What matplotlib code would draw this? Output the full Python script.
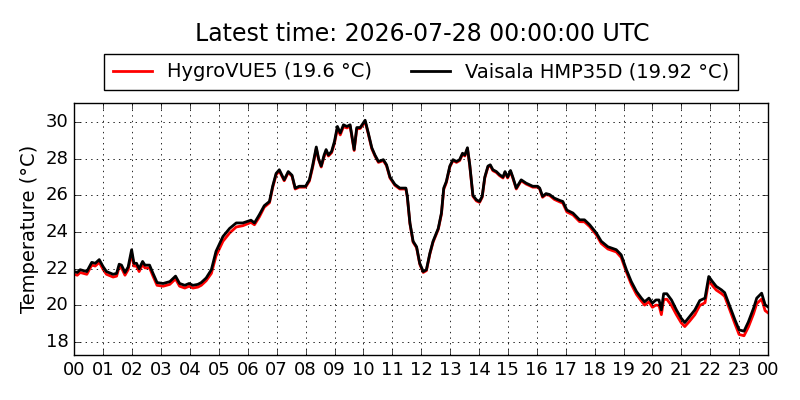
import matplotlib
matplotlib.use("Agg")
import matplotlib.pyplot as plt

plt.style.use("classic")

title_text = "Latest time: 2026-07-28 00:00:00 UTC"
label_hygro = "HygroVUE5 (19.6 °C)"
label_vaisala = "Vaisala HMP35D (19.92 °C)"
tick_positions = list(range(0, 25))
tick_labels = ["%02d" % (h % 24) for h in tick_positions]
ytick_values = [18, 20, 22, 24, 26, 28, 30]

hours = [0.00, 0.10, 0.20, 0.43, 0.60, 0.72, 0.86, 1.00, 1.11, 1.34, 1.46, 1.55, 1.63, 1.75, 1.86,
         1.98, 2.06, 2.15, 2.24, 2.36, 2.44, 2.60, 2.72, 2.86, 3.07, 3.30, 3.50, 3.64, 3.82, 3.97,
         4.10, 4.27, 4.39, 4.56, 4.74, 4.90, 5.14, 5.37, 5.60, 5.83, 6.11, 6.23, 6.40, 6.57, 6.75,
         6.86, 6.98, 7.09, 7.26, 7.40, 7.53, 7.64, 7.78, 8.00, 8.13, 8.24, 8.37, 8.45, 8.54, 8.64,
         8.71, 8.79, 8.90, 9.00, 9.10, 9.20, 9.31, 9.43, 9.54, 9.68, 9.77, 9.89, 10.06, 10.17, 10.29,
         10.40, 10.52, 10.69, 10.80, 10.92, 11.09, 11.26, 11.47, 11.52, 11.61, 11.72, 11.84, 11.95, 12.07, 12.18,
         12.30, 12.41, 12.59, 12.70, 12.78, 12.87, 12.99, 13.10, 13.22, 13.33, 13.43, 13.51, 13.60, 13.68, 13.79,
         13.91, 14.02, 14.11, 14.20, 14.31, 14.39, 14.48, 14.60, 14.71, 14.83, 14.90, 14.99, 15.09, 15.17, 15.29,
         15.46, 15.63, 15.86, 16.03, 16.10, 16.20, 16.32, 16.44, 16.61, 16.79, 16.90, 17.04, 17.25, 17.48, 17.65,
         17.83, 18.06, 18.23, 18.46, 18.75, 18.92, 19.10, 19.27, 19.45, 19.62, 19.73, 19.88, 20.00, 20.12, 20.23,
         20.31, 20.39, 20.50, 20.66, 20.83, 21.00, 21.12, 21.29, 21.47, 21.64, 21.82, 21.87, 21.95, 22.08, 22.21,
         22.39, 22.50, 22.68, 22.86, 23.00, 23.17, 23.32, 23.50, 23.61, 23.78, 23.90, 24.00]

vaisala = [21.85, 21.80, 21.95, 21.85, 22.35, 22.30, 22.50, 22.10, 21.85, 21.70, 21.75, 22.25, 22.20, 21.80, 22.10,
           23.04, 22.30, 22.30, 22.00, 22.40, 22.20, 22.20, 21.75, 21.25, 21.20, 21.30, 21.60, 21.20, 21.10, 21.20,
           21.10, 21.15, 21.25, 21.50, 21.95, 22.95, 23.76, 24.20, 24.50, 24.50, 24.65, 24.50, 24.95, 25.44, 25.67,
           26.50, 27.20, 27.40, 26.85, 27.30, 27.10, 26.40, 26.50, 26.50, 26.85, 27.60, 28.64, 28.00, 27.60, 28.20,
           28.50, 28.20, 28.40, 28.95, 29.76, 29.40, 29.85, 29.76, 29.85, 28.50, 29.70, 29.70, 30.10, 29.40, 28.60,
           28.20, 27.85, 27.95, 27.67, 27.00, 26.60, 26.40, 26.40, 25.95, 24.50, 23.50, 23.20, 22.30, 21.85, 21.95,
           22.85, 23.50, 24.20, 25.04, 26.40, 26.76, 27.60, 27.95, 27.85, 27.95, 28.30, 28.20, 28.60, 27.67, 26.00,
           25.76, 25.67, 25.95, 27.00, 27.60, 27.67, 27.40, 27.30, 27.13, 27.00, 27.30, 27.00, 27.36, 27.00, 26.40,
           26.85, 26.67, 26.50, 26.50, 26.40, 25.95, 26.10, 26.05, 25.85, 25.73, 25.67, 25.20, 25.04, 24.67, 24.67,
           24.40, 23.95, 23.50, 23.20, 23.04, 22.76, 21.95, 21.30, 20.76, 20.40, 20.20, 20.40, 20.13, 20.30, 20.30,
           19.76, 20.64, 20.64, 20.30, 19.76, 19.30, 19.07, 19.40, 19.76, 20.27, 20.40, 20.85, 21.58, 21.30, 21.04,
           20.85, 20.70, 19.95, 19.20, 18.67, 18.60, 19.10, 19.85, 20.40, 20.67, 20.04, 19.92]

hygrovue = [21.70, 21.65, 21.80, 21.70, 22.20, 22.15, 22.35, 21.95, 21.70, 21.55, 21.60, 22.10, 22.05, 21.65, 21.95,
            22.85, 22.15, 22.15, 21.85, 22.25, 22.05, 22.05, 21.60, 21.10, 21.05, 21.15, 21.45, 21.05, 20.95, 21.05,
            20.95, 21.00, 21.10, 21.35, 21.75, 22.70, 23.50, 23.95, 24.28, 24.35, 24.53, 24.40, 24.83, 25.36, 25.60,
            26.42, 27.13, 27.33, 26.80, 27.25, 27.05, 26.35, 26.45, 26.45, 26.78, 27.50, 28.55, 27.95, 27.55, 28.10,
            28.42, 28.15, 28.33, 28.85, 29.65, 29.30, 29.75, 29.68, 29.78, 28.45, 29.62, 29.65, 30.02, 29.35, 28.55,
            28.15, 27.80, 27.90, 27.62, 26.95, 26.55, 26.35, 26.35, 25.90, 24.45, 23.45, 23.15, 22.25, 21.80, 21.90,
            22.80, 23.45, 24.15, 24.98, 26.33, 26.70, 27.55, 27.90, 27.80, 27.90, 28.25, 28.15, 28.55, 27.62, 25.95,
            25.70, 25.62, 25.90, 26.95, 27.55, 27.62, 27.35, 27.25, 27.08, 26.95, 27.25, 26.95, 27.30, 26.95, 26.35,
            26.80, 26.62, 26.45, 26.45, 26.35, 25.90, 26.05, 26.00, 25.78, 25.65, 25.58, 25.10, 24.94, 24.57, 24.56,
            24.30, 23.85, 23.38, 23.08, 22.92, 22.62, 21.82, 21.15, 20.60, 20.24, 20.02, 20.20, 19.90, 20.02, 20.00,
            19.50, 20.32, 20.34, 20.00, 19.50, 19.05, 18.85, 19.15, 19.50, 20.00, 20.15, 20.60, 21.35, 21.08, 20.84,
            20.65, 20.50, 19.75, 18.98, 18.42, 18.35, 18.82, 19.55, 20.10, 20.35, 19.72, 19.60]

fig = plt.figure(figsize=(8, 4), dpi=100, facecolor="white")
ax = fig.add_axes([0.093, 0.1125, 0.867, 0.6305])
ax.set_facecolor("white")

ax.plot(hours, hygrovue, color="red", lw=2, label=label_hygro)
ax.plot(hours, vaisala, color="black", lw=2, label=label_vaisala)

ax.set_xlim(0, 24)
ax.set_ylim(17.3, 31.05)
ax.set_xticks(tick_positions)
ax.set_xticklabels(tick_labels, fontsize=13)
ax.set_yticks(ytick_values)
ax.tick_params(axis="y", labelsize=13)
ax.set_ylabel("Temperature (°C)", fontsize=14)
ax.grid(True, color="black", linestyle=":", linewidth=0.6)

leg = ax.legend(loc="lower center", bbox_to_anchor=(0.5, 1.05), ncol=2, fontsize=14,
                frameon=True, fancybox=False, handlelength=2.0, borderpad=0.45,
                borderaxespad=0.0, columnspacing=2.0, numpoints=1)
leg.get_frame().set_edgecolor("black")

fig.text(0.5275, 1 - 34 / 400, title_text, ha="center", va="center", fontsize=17)

fig.savefig("out.png", dpi=100, facecolor="white")
